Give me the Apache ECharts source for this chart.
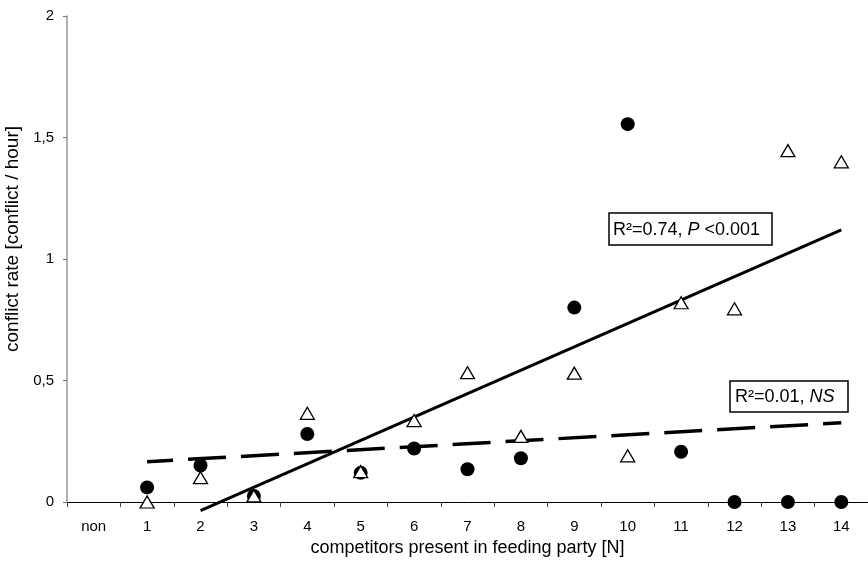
<!DOCTYPE html>
<html>
<head>
<meta charset="utf-8">
<script src="https://cdn.jsdelivr.net/npm/echarts@6/dist/echarts.min.js"></script>
<style>
html,body{margin:0;padding:0;background:#fff;}
#chart{width:868px;height:566px;}
</style>
</head>
<body>
<div id="chart"></div>
<script>
// ---- data ----
const categories = ['non','1','2','3','4','5','6','7','8','9','10','11','12','13','14'];
const circleValues = [null, 0.06, 0.15, 0.025, 0.28, 0.12, 0.22, 0.135, 0.18, 0.80, 1.555, 0.207, 0, 0, 0];
const triangleValues = [null, 0, 0.10, 0.025, 0.365, 0.125, 0.335, 0.532, 0.27, 0.53, 0.19, 0.82, 0.795, 1.446, 1.40];
const solidFitX = ['2', '14'];
const solidFitY = [-0.035, 1.12];
const dashedFitX = ['1', '14'];
const dashedFitY = [0.166, 0.326];
const yTickValues = [0, 0.5, 1, 1.5, 2];
const annotationSolid = 'R²=0.74, {i|P} <0.001';
const annotationDashed = 'R²=0.01, {i|NS}';

const FONT = '"Liberation Sans", Arial, sans-serif';

function pairs(xs, ys){ return xs.map((x,i)=>[x, ys[i]]); }
function catPairs(vals){ return vals.map((v,i)=> v===null ? null : [categories[i], v]).filter(d=>d!==null); }

const chart = echarts.init(document.getElementById('chart'), null, {renderer:'canvas'});
const option = {
  animation: false,
  backgroundColor: '#fff',
  textStyle: { fontFamily: FONT },
  grid: { left: 67, right: 0, top: 16, bottom: 64, containLabel: false, outerBoundsMode: 'none' },
  xAxis: {
    type: 'category',
    data: categories,
    boundaryGap: true,
    axisLine: { lineStyle: { color: '#000', width: 1 } },
    axisTick: { show: true, length: 5, lineStyle: { color: '#444' } },
    axisLabel: { interval: 0, color: '#000', fontSize: 15, margin: 17, fontFamily: FONT },
    splitLine: { show: false },
    name: 'competitors present in feeding party [N]',
    nameLocation: 'middle',
    nameGap: 35,
    nameTextStyle: { fontSize: 18, color: '#000', fontFamily: FONT }
  },
  yAxis: {
    type: 'value',
    min: yTickValues[0],
    max: yTickValues[yTickValues.length-1],
    interval: 0.5,
    axisLine: { show: true, lineStyle: { color: '#999', width: 1.5 } },
    axisTick: { show: true, length: 4, lineStyle: { color: '#777' } },
    splitLine: { show: false },
    axisLabel: { color: '#000', fontSize: 15, margin: 13, fontFamily: FONT,
      formatter: v => String(v).replace('.', ',') },
    name: 'conflict rate [conflict / hour]',
    nameLocation: 'middle',
    nameGap: 30,
    nameTextStyle: { fontSize: 19, color: '#000', fontFamily: FONT, padding: [0, 0, 0, 40] }
  },
  series: [
    {
      type: 'line', data: pairs(dashedFitX, dashedFitY), symbol: 'none', clip: false,
      lineStyle: { color: '#000', width: 3.5, type: [38, 15], dashOffset: 12 }, z: 2
    },
    {
      type: 'line', data: pairs(solidFitX, solidFitY), symbol: 'none', clip: false,
      lineStyle: { color: '#000', width: 3 }, z: 2
    },
    {
      type: 'scatter', data: catPairs(circleValues), symbol: 'circle', symbolSize: 14,
      itemStyle: { color: '#000', opacity: 1 }, z: 3
    },
    {
      type: 'scatter', data: catPairs(triangleValues), symbol: 'triangle', symbolSize: [14, 12],
      itemStyle: { color: '#fff', borderColor: '#000', borderWidth: 1.3, opacity: 1 }, z: 4
    }
  ],
  graphic: [
    { type: 'rect', shape: { x: 609, y: 213, width: 163, height: 32 },
      style: { fill: '#fff', stroke: '#000', lineWidth: 1.5 }, z: 10 },
    { type: 'text', x: 613, y: 230, z: 11,
      style: { text: annotationSolid, font: '18px ' + FONT, fill: '#000', verticalAlign: 'middle', align: 'left',
        rich: { i: { fontStyle: 'italic', fontSize: 18, fontFamily: FONT, fill: '#000' } } } },
    { type: 'rect', shape: { x: 730, y: 381, width: 118, height: 31 },
      style: { fill: '#fff', stroke: '#000', lineWidth: 1.5 }, z: 10 },
    { type: 'text', x: 735, y: 397, z: 11,
      style: { text: annotationDashed, font: '18px ' + FONT, fill: '#000', verticalAlign: 'middle', align: 'left',
        rich: { i: { fontStyle: 'italic', fontSize: 18, fontFamily: FONT, fill: '#000' } } } }
  ]
};
chart.setOption(option);
</script>
</body>
</html>
